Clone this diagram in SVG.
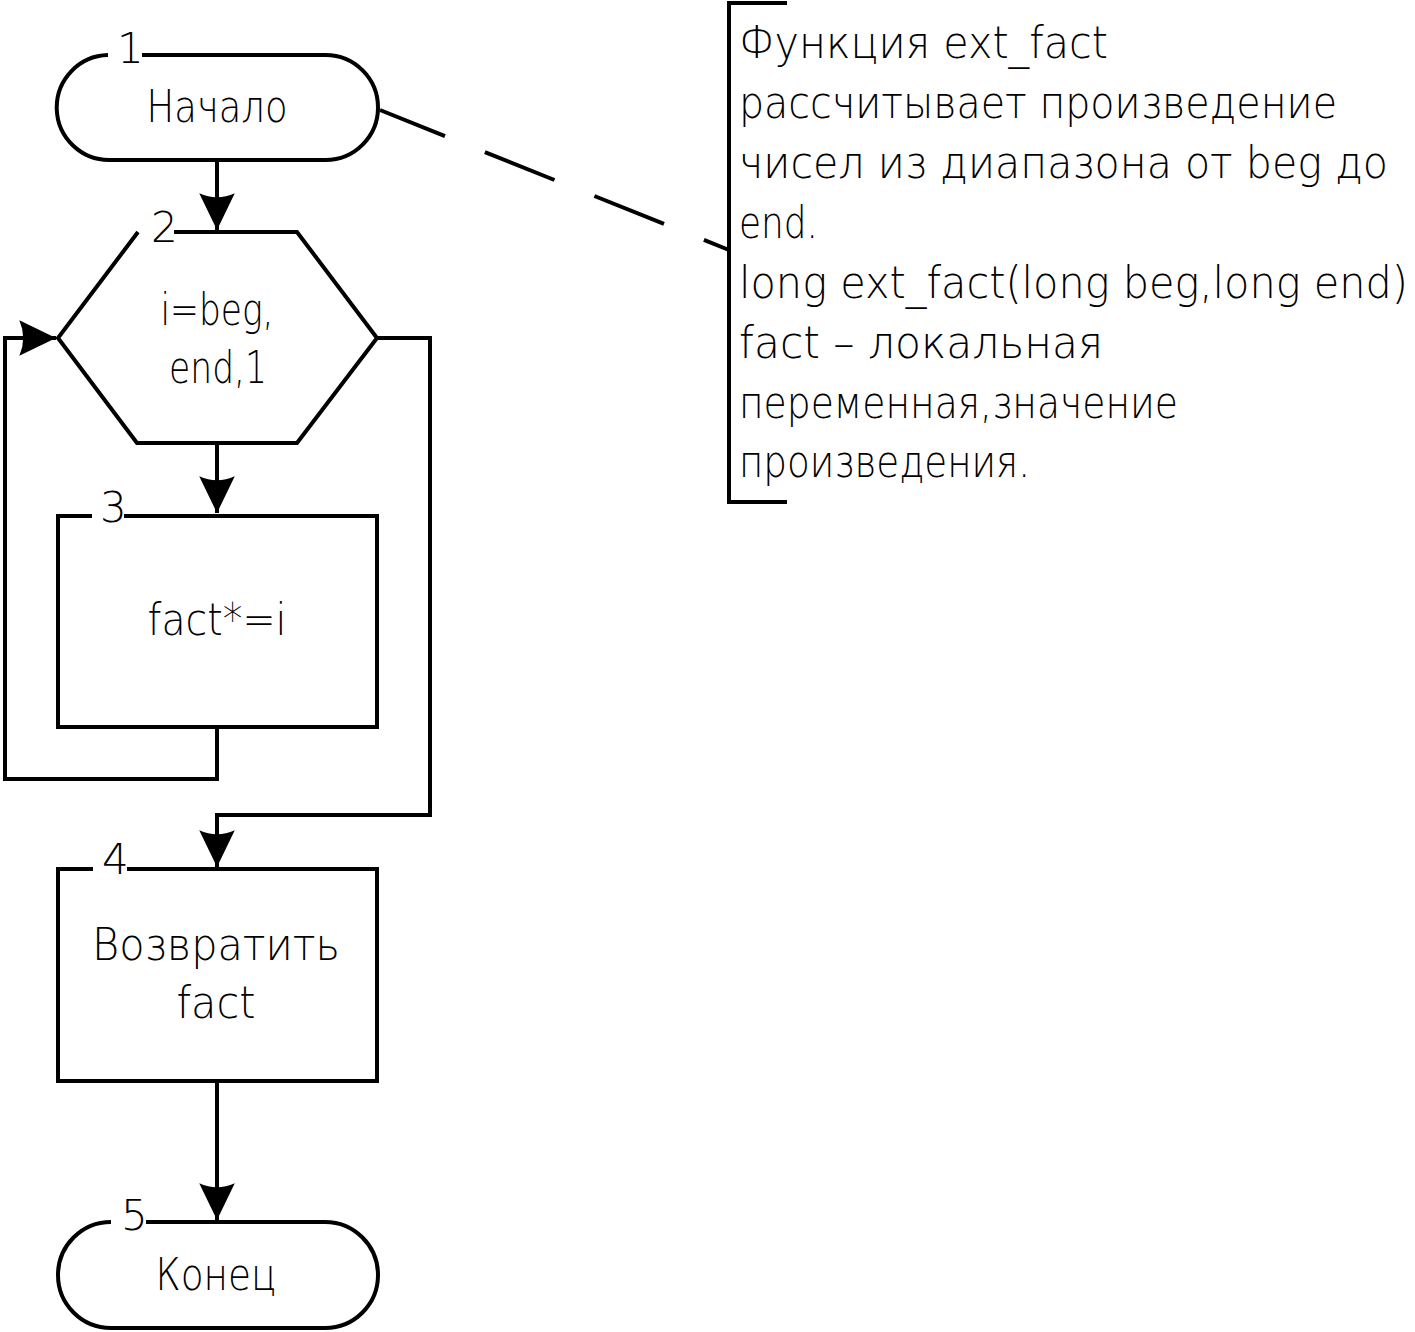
<svg xmlns="http://www.w3.org/2000/svg" width="1415" height="1332" viewBox="0 0 1415 1332">
<style>
.s{fill:none;stroke:#000;stroke-width:4;stroke-linejoin:miter}
.t{font-family:"DejaVu Sans","Liberation Sans Narrow",sans-serif;font-weight:200;font-size:44px;fill:#000}
.n{font-family:"DejaVu Sans","Liberation Sans Narrow",sans-serif;font-weight:200;font-size:42px;fill:#000}
.c{text-anchor:middle}
</style>
<defs>
<marker id="ah" markerUnits="userSpaceOnUse" markerWidth="40" markerHeight="40" viewBox="-34 -17 36 34" refX="0" refY="0" orient="auto">
<path d="M0,0 L-33,-16 Q-26,0 -33,16 Z" fill="#000"/>
</marker>
</defs>
<rect width="1415" height="1332" fill="#fff"/>
<g id="connectors">
<path class="s" d="M217,160 V230" marker-end="url(#ah)"/>
<path class="s" d="M217,443 V513" marker-end="url(#ah)"/>
<path class="s" d="M217,727 V779 H5 V338 H56" marker-end="url(#ah)"/>
<path class="s" d="M377,338 H430 V815 H217 V867" marker-end="url(#ah)"/>
<path class="s" d="M217,1081 V1220" marker-end="url(#ah)"/>
<path class="s" d="M380,110 L729,250" stroke-dasharray="75 43" stroke-dashoffset="5"/>
</g>
<g id="node1">
<path class="s" d="M142,55 H325.5 A52.5,52.5 0 0 1 325.5,160 H110.5 A52.5,52.5 0 0 1 108,55"/>
<text class="n" x="117" y="63">1</text>
<text class="t c" x="217" y="122" textLength="141" lengthAdjust="spacingAndGlyphs">Начало</text>
</g>
<g id="node2">
<path class="s" d="M174,232 H297 L377,338 L297,443 H137 L58,338 L138,232"/>
<text class="n" x="151" y="242">2</text>
<text class="t c" x="217" y="325" textLength="113" lengthAdjust="spacingAndGlyphs">i=beg,</text>
<text class="t c" x="218" y="383" textLength="98" lengthAdjust="spacingAndGlyphs">end,1</text>
</g>
<g id="node3">
<path class="s" d="M124,516 H377 V727 H58 V516 H92"/>
<text class="n" x="100" y="522">3</text>
<text class="t c" x="217" y="635" textLength="139" lengthAdjust="spacingAndGlyphs">fact*=i</text>
</g>
<g id="node4">
<path class="s" d="M127,869 H377 V1081 H58 V869 H93"/>
<text class="n" x="102" y="874">4</text>
<text class="t c" x="216" y="960" textLength="248" lengthAdjust="spacingAndGlyphs">Возвратить</text>
<text class="t c" x="216" y="1018" textLength="79" lengthAdjust="spacingAndGlyphs">fact</text>
</g>
<g id="node5">
<path class="s" d="M146,1222 H325 A53,53 0 0 1 325,1328 H111 A53,53 0 0 1 111,1222"/>
<text class="n" x="121" y="1230">5</text>
<text class="t c" x="216" y="1290" textLength="121" lengthAdjust="spacingAndGlyphs">Конец</text>
</g>
<g id="comment">
<path class="s" d="M787,3 H729 V502 H787"/>
<text class="t" x="739" y="58" textLength="369" lengthAdjust="spacingAndGlyphs">Функция ext_fact</text>
<text class="t" x="739" y="118" textLength="598" lengthAdjust="spacingAndGlyphs">рассчитывает произведение</text>
<text class="t" x="739" y="178" textLength="649" lengthAdjust="spacingAndGlyphs">чисел из диапазона от beg до</text>
<text class="t" x="739" y="238" textLength="79" lengthAdjust="spacingAndGlyphs">end.</text>
<text class="t" x="739" y="298" textLength="669" lengthAdjust="spacingAndGlyphs">long ext_fact(long beg,long end)</text>
<text class="t" x="739" y="358" textLength="364" lengthAdjust="spacingAndGlyphs">fact – локальная</text>
<text class="t" x="739" y="418" textLength="439" lengthAdjust="spacingAndGlyphs">переменная,значение</text>
<text class="t" x="739" y="477" textLength="291" lengthAdjust="spacingAndGlyphs">произведения.</text>
</g>
</svg>
